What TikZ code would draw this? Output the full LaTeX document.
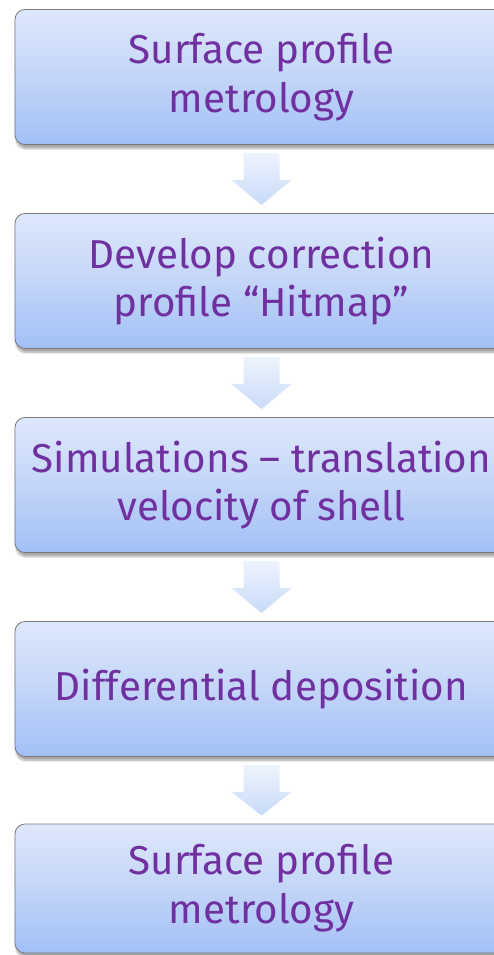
\documentclass[tikz,border=0pt]{standalone}
\usepackage{fontspec}
\setmainfont{Fira Sans}
\usetikzlibrary{calc,shadows.blur}

\definecolor{boxtop}{HTML}{DEE8FB}
\definecolor{boxmid}{HTML}{C3D5F8}
\definecolor{boxbot}{HTML}{A2C0F6}
\definecolor{boxline}{HTML}{7A7A7A}
\definecolor{steptext}{HTML}{7030A0}
\definecolor{arrtop}{HTML}{EEF3FD}
\definecolor{arrbot}{HTML}{C8DAF8}

\begin{document}
\begin{tikzpicture}[
    x=1bp, y=-1bp,
    stepbox/.style={draw=boxline, line width=0.8bp, rounded corners=10bp,
                    top color=boxtop, bottom color=boxbot, middle color=boxmid,
                    minimum width=493bp, minimum height=135bp, inner sep=0pt,
                    align=center, text=steptext,
                    font=\fontsize{40.5}{49}\selectfont,
                    blur shadow={shadow xshift=1bp, shadow yshift=-4bp,
                                 shadow opacity=35, shadow blur steps=6}},
    flowarrow/.style={top color=arrtop, bottom color=arrbot, draw=none}
]

\useasboundingbox (0,0) rectangle (494,955);

% =========================================================
% PROCESS STEPS
% =========================================================
\node[stepbox] (b1) at (261.5,77)  {Surface profile\\metrology};
\node[stepbox] (b2) at (261.5,281) {Develop correction\\profile “Hitmap”};
\node[stepbox] (b3) at (261.5,485) {Simulations -- translation\\velocity of shell};
\node[stepbox] (b4) at (261.5,689) {Differential deposition};
\node[stepbox, minimum height=129bp] (b5) at (261.5,888.5)
      {Surface profile\\metrology};

% =========================================================
% BLOCK ARROWS between the steps
% =========================================================
\foreach \i/\j in {1/2, 2/3, 3/4, 4/5} {
  \path[flowarrow] ($(b\i.south)+(-18,8)$) -- ($(b\i.south)+(18,8)$)
        -- ($(b\i.south)+(18,35)$) -- ($(b\i.south)+(30,35)$)
        -- ($(b\j.north)+(0,-8)$)
        -- ($(b\i.south)+(-30,35)$) -- ($(b\i.south)+(-18,35)$) -- cycle;
}

\end{tikzpicture}
\end{document}
